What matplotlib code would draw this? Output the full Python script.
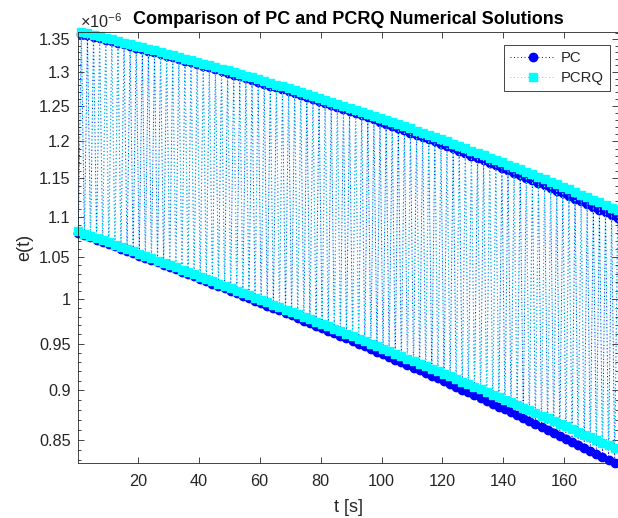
import matplotlib
matplotlib.use('Agg')
import matplotlib.pyplot as plt
import matplotlib.ticker as mticker
import numpy as np

plt.rcParams['font.family'] = ['Liberation Sans', 'DejaVu Sans']
plt.rcParams['mathtext.default'] = 'regular'

# time axis: samples alternate lower / upper envelope
T_START = 0.5
DT = 1.0
SCALE = 1e-6

# values in units of 1e-6
pc_upper = [
    1.3588, 1.3565, 1.3542, 1.3518, 1.3494, 1.3470, 1.3446, 1.3422, 1.3398, 1.3373,
    1.3349, 1.3324, 1.3299, 1.3274, 1.3249, 1.3224, 1.3198, 1.3173, 1.3147, 1.3121,
    1.3095, 1.3069, 1.3042, 1.3016, 1.2989, 1.2962, 1.2935, 1.2908, 1.2881, 1.2854,
    1.2826, 1.2799, 1.2771, 1.2743, 1.2715, 1.2687, 1.2658, 1.2630, 1.2601, 1.2572,
    1.2543, 1.2514, 1.2485, 1.2456, 1.2426, 1.2396, 1.2367, 1.2337, 1.2307, 1.2276,
    1.2246, 1.2215, 1.2185, 1.2154, 1.2123, 1.2092, 1.2061, 1.2029, 1.1998, 1.1966,
    1.1934, 1.1902, 1.1870, 1.1838, 1.1805, 1.1773, 1.1740, 1.1707, 1.1674, 1.1641,
    1.1608, 1.1574, 1.1541, 1.1507, 1.1473, 1.1439, 1.1405, 1.1371, 1.1336, 1.1302,
    1.1267, 1.1232, 1.1197, 1.1162, 1.1127, 1.1091, 1.1056, 1.1020, 1.0984,
]
pcrq_upper = [
    1.3616, 1.3593, 1.3569, 1.3546, 1.3522, 1.3499, 1.3475, 1.3451, 1.3427, 1.3403,
    1.3379, 1.3355, 1.3330, 1.3305, 1.3281, 1.3256, 1.3231, 1.3205, 1.3180, 1.3155,
    1.3129, 1.3103, 1.3078, 1.3052, 1.3025, 1.2999, 1.2973, 1.2946, 1.2920, 1.2893,
    1.2866, 1.2839, 1.2812, 1.2785, 1.2757, 1.2730, 1.2702, 1.2674, 1.2646, 1.2618,
    1.2590, 1.2562, 1.2533, 1.2504, 1.2476, 1.2447, 1.2418, 1.2389, 1.2359, 1.2330,
    1.2300, 1.2271, 1.2241, 1.2211, 1.2181, 1.2151, 1.2120, 1.2090, 1.2059, 1.2029,
    1.1998, 1.1967, 1.1936, 1.1904, 1.1873, 1.1841, 1.1810, 1.1778, 1.1746, 1.1714,
    1.1682, 1.1650, 1.1617, 1.1584, 1.1552, 1.1519, 1.1486, 1.1453, 1.1420, 1.1386,
    1.1353, 1.1319, 1.1285, 1.1252, 1.1217, 1.1183, 1.1149, 1.1115, 1.1080,
]
pc_lower = [
    1.0795, 1.0767, 1.0740, 1.0712, 1.0684, 1.0656, 1.0629, 1.0601, 1.0573, 1.0545,
    1.0517, 1.0489, 1.0461, 1.0433, 1.0405, 1.0377, 1.0349, 1.0321, 1.0293, 1.0265,
    1.0237, 1.0209, 1.0181, 1.0153, 1.0124, 1.0096, 1.0068, 1.0040, 1.0011, 0.9983,
    0.9955, 0.9926, 0.9898, 0.9870, 0.9841, 0.9813, 0.9784, 0.9756, 0.9727, 0.9699,
    0.9670, 0.9642, 0.9613, 0.9585, 0.9556, 0.9527, 0.9499, 0.9470, 0.9441, 0.9412,
    0.9384, 0.9355, 0.9326, 0.9297, 0.9268, 0.9240, 0.9211, 0.9182, 0.9153, 0.9124,
    0.9095, 0.9066, 0.9037, 0.9008, 0.8979, 0.8950, 0.8921, 0.8892, 0.8862, 0.8833,
    0.8804, 0.8775, 0.8746, 0.8716, 0.8687, 0.8658, 0.8628, 0.8599, 0.8570, 0.8540,
    0.8511, 0.8481, 0.8452, 0.8422, 0.8393, 0.8363, 0.8334, 0.8304, 0.8275,
]
pcrq_lower = [
    1.0815, 1.0787, 1.0760, 1.0732, 1.0704, 1.0677, 1.0649, 1.0622, 1.0594, 1.0566,
    1.0539, 1.0511, 1.0484, 1.0456, 1.0428, 1.0401, 1.0373, 1.0346, 1.0318, 1.0291,
    1.0263, 1.0236, 1.0208, 1.0181, 1.0154, 1.0126, 1.0099, 1.0071, 1.0044, 1.0017,
    0.9989, 0.9962, 0.9934, 0.9907, 0.9880, 0.9852, 0.9825, 0.9798, 0.9770, 0.9743,
    0.9716, 0.9689, 0.9661, 0.9634, 0.9607, 0.9580, 0.9552, 0.9525, 0.9498, 0.9471,
    0.9444, 0.9416, 0.9389, 0.9362, 0.9335, 0.9308, 0.9281, 0.9254, 0.9227, 0.9199,
    0.9172, 0.9145, 0.9118, 0.9091, 0.9064, 0.9037, 0.9010, 0.8983, 0.8956, 0.8929,
    0.8902, 0.8875, 0.8848, 0.8821, 0.8794, 0.8768, 0.8741, 0.8714, 0.8687, 0.8660,
    0.8633, 0.8606, 0.8579, 0.8552, 0.8526, 0.8499, 0.8472, 0.8445, 0.8418,
]

y_major = [0.85, 0.9, 0.95, 1.0, 1.05, 1.1, 1.15, 1.2, 1.25, 1.3, 1.35]
x_major = [20, 40, 60, 80, 100, 120, 140, 160]

AX_COLOR = '#262626'
DOTS = (0, (1, 2.6))


def interleave(lower, upper):
    out = np.empty(len(lower) + len(upper))
    out[0::2] = lower
    out[1::2] = upper
    return out * SCALE


pc = interleave(pc_lower, pc_upper)
pcrq = interleave(pcrq_lower, pcrq_upper)
t = T_START + DT * np.arange(len(pc))

fig = plt.figure(figsize=(6.18, 5.18), dpi=100)
ax = fig.add_axes([78.3 / 618, 55 / 518, 539.4 / 618, 431 / 518])

ax.plot(t, pc, linestyle=DOTS, linewidth=0.7, color='#0000ff', marker='o',
        markersize=6, markerfacecolor='#0000ff', markeredgecolor='#0000ff',
        label='PC', clip_on=False)
ax.plot(t, pcrq, linestyle=DOTS, linewidth=0.7, color='#00ffff', marker='s',
        markersize=5.5, markerfacecolor='#00ffff', markeredgecolor='#00ffff',
        label='PCRQ', clip_on=False)

ax.set_yscale('log')
ax.set_xlim(t[0], t[-1])
ax.set_ylim(min(pc.min(), pcrq.min()), max(pc.max(), pcrq.max()))

ax.xaxis.set_major_locator(mticker.FixedLocator(x_major))
ax.xaxis.set_minor_locator(mticker.NullLocator())
ax.yaxis.set_major_locator(mticker.FixedLocator([v * SCALE for v in y_major]))
ax.yaxis.set_major_formatter(mticker.FuncFormatter(lambda v, _: f'{v / SCALE:g}'))
minor = [v * SCALE for v in np.round(np.arange(0.82, 1.37, 0.01), 2) if v not in y_major]
ax.yaxis.set_minor_locator(mticker.FixedLocator(minor))
ax.yaxis.set_minor_formatter(mticker.NullFormatter())

ax.tick_params(which='both', direction='in', top=True, right=True,
               color=AX_COLOR, labelcolor=AX_COLOR, labelsize=11.7, width=0.6)
ax.tick_params(which='major', length=4)
ax.tick_params(which='minor', length=2.5)
ax.tick_params(axis='x', pad=8)
ax.tick_params(axis='y', pad=5.5)
for s in ax.spines.values():
    s.set_color(AX_COLOR)
    s.set_linewidth(0.6)

ax.set_title('Comparison of PC and PCRQ Numerical Solutions', fontsize=13,
             fontweight='bold', color='black', pad=6)
ax.set_xlabel('t [s]', fontsize=13, color=AX_COLOR, labelpad=7)
ax.set_ylabel('e(t)', fontsize=13, color=AX_COLOR, labelpad=4)
fig.text(80 / 618, 1 - 28 / 518, '×10$^{-6}$', fontsize=11.7, color=AX_COLOR,
         ha='left', va='baseline')

leg = ax.legend(loc='upper right', bbox_to_anchor=(0.9857, 0.9698),
                borderaxespad=0, fontsize=10.7, numpoints=1, handlelength=3.0,
                handletextpad=0.4, fancybox=False, framealpha=1,
                edgecolor=AX_COLOR, borderpad=0.42, labelspacing=0.4)
leg.get_frame().set_linewidth(0.6)
for txt in leg.get_texts():
    txt.set_color(AX_COLOR)

fig.savefig('out.png', dpi=100)
